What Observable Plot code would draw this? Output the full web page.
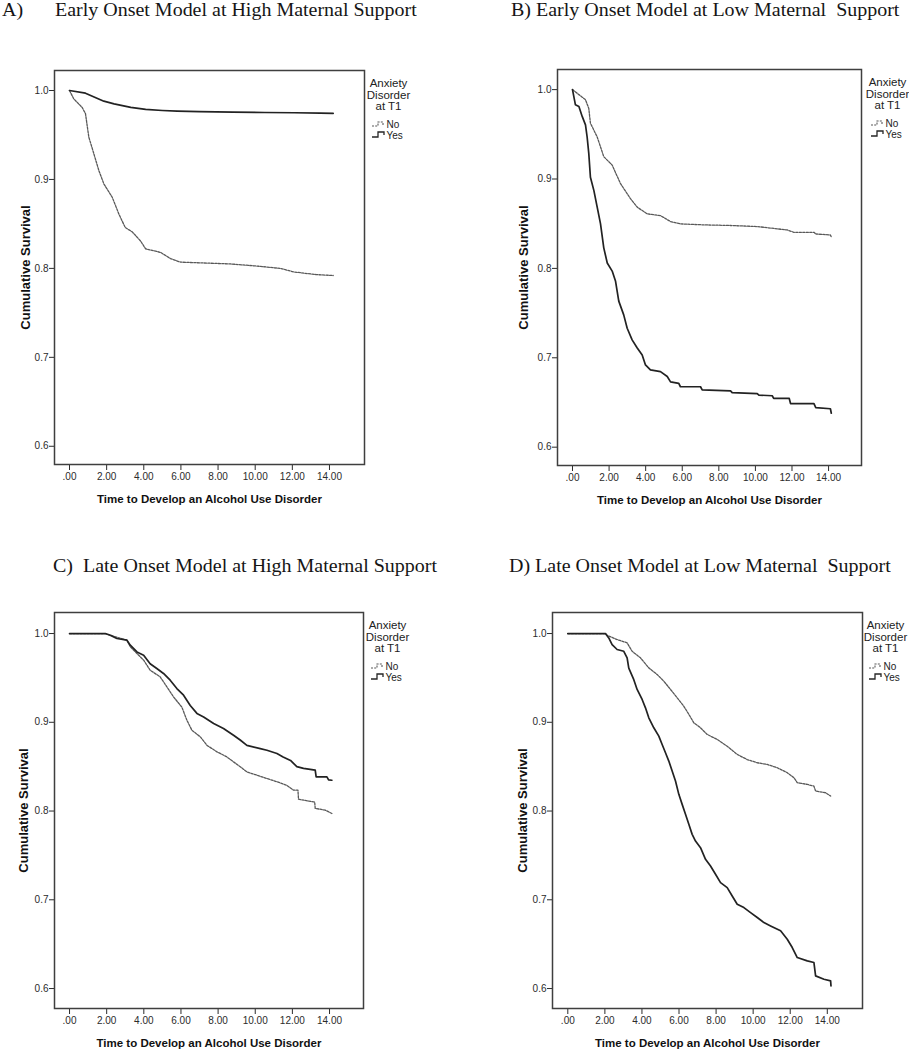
<!DOCTYPE html>
<html><head><meta charset="utf-8">
<script src="https://cdn.jsdelivr.net/npm/d3@7"></script>
<script src="https://cdn.jsdelivr.net/npm/@observablehq/plot@0.6"></script>
<style>
body{margin:0;background:#fff;}
#wrap{position:relative;width:909px;height:1050px;overflow:hidden;background:#fff;}
.ttl{position:absolute;font-family:"Liberation Serif","Times New Roman",serif;font-size:18px;line-height:18px;white-space:pre;color:#151515;transform:scaleX(1.11);transform-origin:0 0;}
.panel{position:absolute;}
</style></head><body><div id="wrap"></div>
<script>
// ---------- data ----------
const xTicks = [0, 2, 4, 6, 8, 10, 12, 14];
const yTicks = [0.6, 0.7, 0.8, 0.9, 1.0];
const xTitle = "Time to Develop an Alcohol Use Disorder";
const yTitle = "Cumulative Survival";
const legendTitle = ["Anxiety", "Disorder", "at T1"];
const legendLabels = ["No", "Yes"];
const panelTitles = [
  ["A)", "Early Onset Model at High Maternal Support"],
  ["", "B) Early Onset Model at Low Maternal  Support"],
  ["", "C)  Late Onset Model at High Maternal Support"],
  ["", "D) Late Onset Model at Low Maternal  Support"]
];

// Panel A – Early onset, high maternal support
const aYesT = [0, 0.86, 1.85, 2.4, 3.3, 4.1, 5.0, 5.8, 7.0, 8.8, 10.5, 12.1, 13.5, 14.2];
const aYesS = [1.0, 0.997, 0.988, 0.985, 0.981, 0.9787, 0.9775, 0.9768, 0.9762, 0.9757, 0.9753, 0.975, 0.9746, 0.9742];
const aNoT = [0, 0.23, 0.68, 0.86, 1.04, 1.31, 1.58, 1.85, 2.3, 2.66, 3.0, 3.38, 3.82, 4.1, 4.9, 5.44, 5.98, 8.67, 10.1, 11.36, 12.08, 13.3, 14.2];
const aNoS = [1.0, 0.9906, 0.981, 0.974, 0.9476, 0.929, 0.910, 0.895, 0.880, 0.861, 0.846, 0.841, 0.831, 0.822, 0.818, 0.811, 0.807, 0.805, 0.8026, 0.80, 0.796, 0.793, 0.792];

// Panel B – Early onset, low maternal support
const bYesT = [0, 0.16, 0.35, 0.53, 0.71, 0.8, 0.89, 0.98, 1.17, 1.35, 1.53, 1.71, 1.9, 2.17, 2.35, 2.53, 2.8, 2.99, 3.26, 3.54, 3.81, 3.99, 4.26, 4.81, 5.18, 5.36, 5.81, 5.9, 7.0, 7.09, 8.64, 8.73, 10.1, 10.19, 10.92, 11.0, 11.85, 11.92, 13.2, 13.3, 14.1, 14.15];
const bYesS = [1.0, 0.983, 0.981, 0.97, 0.9606, 0.947, 0.9287, 0.902, 0.887, 0.8685, 0.85, 0.823, 0.806, 0.797, 0.786, 0.7634, 0.748, 0.733, 0.72, 0.711, 0.703, 0.692, 0.6864, 0.6845, 0.679, 0.673, 0.6713, 0.6676, 0.6676, 0.664, 0.663, 0.661, 0.66, 0.6583, 0.6575, 0.6545, 0.6545, 0.6488, 0.6488, 0.6443, 0.643, 0.638];
const bNoT = [0, 0.35, 0.71, 0.89, 0.98, 1.35, 1.71, 2.17, 2.62, 3.17, 3.54, 4.08, 4.81, 5.36, 5.9, 7.18, 8.64, 10.1, 11.74, 12.1, 13.2, 13.3, 14.1, 14.15];
const bNoS = [1.0, 0.9944, 0.9887, 0.979, 0.9625, 0.947, 0.925, 0.9155, 0.895, 0.878, 0.8685, 0.861, 0.859, 0.8524, 0.8498, 0.8487, 0.848, 0.8468, 0.843, 0.8404, 0.8404, 0.8385, 0.8374, 0.835];

// Panel C – Late onset, high maternal support
const cYesT = [0, 1.92, 2.19, 2.55, 3.09, 3.27, 3.63, 3.99, 4.34, 4.7, 5.06, 5.42, 5.78, 6.14, 6.5, 6.86, 7.22, 7.76, 8.29, 8.83, 9.19, 9.55, 10.27, 10.63, 11.17, 11.5, 11.9, 12.24, 12.6, 13.23, 13.28, 13.86, 13.95, 14.13];
const cYesS = [1, 1, 0.998, 0.9944, 0.9925, 0.9869, 0.9793, 0.9756, 0.966, 0.9606, 0.955, 0.9474, 0.938, 0.9305, 0.919, 0.91, 0.906, 0.8986, 0.893, 0.8854, 0.88, 0.874, 0.8704, 0.8685, 0.8648, 0.861, 0.857, 0.85, 0.848, 0.846, 0.8385, 0.8385, 0.835, 0.8347];
const cNoT = [0, 1.92, 2.37, 3.09, 3.27, 3.63, 3.99, 4.34, 4.88, 5.24, 5.6, 6.05, 6.32, 6.59, 7.04, 7.4, 7.94, 8.47, 8.83, 9.19, 9.55, 10.09, 10.63, 11.17, 11.7, 12.06, 12.3, 12.33, 13.14, 13.2, 13.23, 13.77, 14.13];
const cNoS = [1, 1, 0.997, 0.9925, 0.985, 0.9775, 0.97, 0.9587, 0.9512, 0.94, 0.9286, 0.917, 0.9023, 0.891, 0.8836, 0.874, 0.8667, 0.861, 0.8554, 0.85, 0.844, 0.8404, 0.8366, 0.833, 0.829, 0.8235, 0.8235, 0.8133, 0.8103, 0.8103, 0.803, 0.801, 0.7972];

// Panel D – Late onset, low maternal support
const dYesT = [0, 2.03, 2.21, 2.39, 2.66, 3.02, 3.2, 3.29, 3.56, 3.74, 4.01, 4.19, 4.37, 4.64, 4.91, 5.09, 5.27, 5.45, 5.63, 5.81, 5.99, 6.17, 6.35, 6.53, 6.71, 6.89, 7.16, 7.43, 7.7, 7.97, 8.24, 8.6, 8.87, 9.14, 9.5, 9.86, 10.22, 10.58, 10.94, 11.48, 11.84, 12.11, 12.38, 12.92, 13.28, 13.37, 13.82, 14.18, 14.2];
const dYesS = [1, 1, 0.995, 0.9876, 0.982, 0.98, 0.9726, 0.961, 0.948, 0.937, 0.9257, 0.9163, 0.905, 0.8938, 0.8844, 0.875, 0.8657, 0.8563, 0.845, 0.8338, 0.8188, 0.8075, 0.7963, 0.785, 0.7737, 0.7662, 0.7587, 0.7456, 0.738, 0.7287, 0.7193, 0.7137, 0.7043, 0.695, 0.6912, 0.6856, 0.68, 0.6743, 0.6705, 0.665, 0.6555, 0.6462, 0.6349, 0.6311, 0.6293, 0.6143, 0.6105, 0.6086, 0.603];
const dNoT = [0, 2.03, 2.12, 2.66, 3.2, 3.47, 3.92, 4.37, 4.82, 5.18, 5.54, 5.9, 6.26, 6.53, 6.8, 7.16, 7.52, 8.06, 8.6, 9.14, 9.68, 10.22, 10.76, 11.3, 11.84, 12.2, 12.38, 12.92, 13.28, 13.37, 13.91, 14.18];
const dNoS = [1, 1, 0.998, 0.9932, 0.9895, 0.98, 0.9726, 0.9613, 0.9538, 0.9463, 0.937, 0.9276, 0.918, 0.909, 0.8994, 0.8938, 0.8863, 0.8807, 0.873, 0.8638, 0.858, 0.8544, 0.8525, 0.8488, 0.8432, 0.8375, 0.832, 0.83, 0.828, 0.8225, 0.8206, 0.8169];

// ---------- rendering ----------
const zip = (T, S) => T.map((t, i) => ({t, s: S[i]}));
const SANS = '"Liberation Sans Narrow","Arial Narrow","Liberation Sans",Arial,sans-serif';
const SANSB = '"Liberation Sans",Arial,sans-serif';
const fmtX = d => d === 0 ? ".00" : d.toFixed(2);
const wrap = document.getElementById("wrap");

function addTitle(txt, left, top) {
  const el = document.createElement("div");
  el.className = "ttl";
  el.textContent = txt;
  el.style.left = left + "px";
  el.style.top = top + "px";
  wrap.appendChild(el);
}

function panel(cfg) {
  const {left, top, width, height, mL, mR, mT, mB, xDom, yDom, yes, no, yDx, legDx} = cfg;
  const legDy = [13, 24.5, 36];
  const marks = [
    Plot.line(no, {x: "t", y: "s", stroke: "#595959", strokeWidth: 1.3, strokeDasharray: "2.2,1.3"}),
    Plot.line(yes, {x: "t", y: "s", stroke: "#222", strokeWidth: 1.7}),
    Plot.frame({stroke: "#3f3f3f", strokeWidth: 1.5}),
    Plot.text([yTitle], {text: d => d, frameAnchor: "left", rotate: -90, dx: yDx, textAnchor: "middle", lineAnchor: "middle", fontWeight: "bold", fontSize: 13, fontFamily: SANSB, fill: "#111"}),
    Plot.text([xTitle], {text: d => d, frameAnchor: "bottom", dy: 35, textAnchor: "middle", lineAnchor: "middle", fontWeight: "bold", fontSize: 11.5, fontFamily: SANSB, fill: "#111"})
  ];
  legendTitle.forEach((s, i) => marks.push(Plot.text([s], {text: d => d, frameAnchor: "top-right", dx: legDx, dy: legDy[i], textAnchor: "middle", lineAnchor: "middle", fontSize: 11.5, fill: "#222"})));
  marks.push(Plot.text([legendLabels[0]], {text: d => d, frameAnchor: "top-right", dx: legDx - 2, dy: 54, textAnchor: "start", lineAnchor: "middle", fontSize: 10, fill: "#222"}));
  marks.push(Plot.text([legendLabels[1]], {text: d => d, frameAnchor: "top-right", dx: legDx - 2, dy: 65.5, textAnchor: "start", lineAnchor: "middle", fontSize: 10, fill: "#222"}));

  const svg = Plot.plot({
    width, height, marginLeft: mL, marginRight: mR, marginTop: mT, marginBottom: mB,
    style: {fontFamily: SANS, fontSize: "10px", color: "#2b2b2b", background: "transparent", overflow: "visible"},
    x: {domain: xDom, ticks: xTicks, tickFormat: fmtX, tickSize: 6, tickPadding: 2, label: null},
    y: {domain: yDom, ticks: yTicks, tickFormat: d => d.toFixed(1), tickSize: 5, tickPadding: 1, label: null},
    marks
  });
  // legend line glyphs
  const fr = width - mR, g = d3.select(svg).append("g").attr("fill", "none");
  g.append("path").attr("d", `M${fr + legDx - 16},${mT + 56}H${fr + legDx - 10}V${mT + 52}H${fr + legDx - 5}V${mT + 55}`)
    .attr("stroke", "#595959").attr("stroke-width", 1.1).attr("stroke-dasharray", "2,1.2");
  g.append("path").attr("d", `M${fr + legDx - 16},${mT + 67}H${fr + legDx - 10}V${mT + 62}H${fr + legDx - 4}V${mT + 65}`)
    .attr("stroke", "#262626").attr("stroke-width", 1.3);
  const holder = document.createElement("div");
  holder.className = "panel";
  holder.style.left = left + "px";
  holder.style.top = top + "px";
  holder.appendChild(svg);
  wrap.appendChild(holder);
}

const yTop = [0.5795, 1.0225];
const yBot = [0.5775, 1.0237];

panel({left: 0, top: 40, width: 455, height: 480, mL: 54, mR: 91, mT: 30, mB: 56, xDom: [-0.808, 15.886], yDom: yTop, yes: zip(aYesT, aYesS), no: zip(aNoT, aNoS), yDx: -29, legDx: 24});
panel({left: 455, top: 40, width: 454, height: 480, mL: 102, mR: 48, mT: 29, mB: 55, xDom: [-0.82, 15.80], yDom: yTop, yes: zip(bYesT, bYesS), no: zip(bNoT, bNoS), yDx: -34, legDx: 26});
panel({left: 0, top: 582, width: 455, height: 468, mL: 54, mR: 92, mT: 30, mB: 42, xDom: [-0.81, 15.83], yDom: yBot, yes: zip(cYesT, cYesS), no: zip(cNoT, cNoS), yDx: -31, legDx: 24});
panel({left: 455, top: 582, width: 454, height: 468, mL: 97, mR: 47, mT: 30, mB: 42, xDom: [-0.826, 15.90], yDom: yBot, yes: zip(dYesT, dYesS), no: zip(dNoT, dNoS), yDx: -30, legDx: 23});

addTitle(panelTitles[0][0], 2, 1);
addTitle(panelTitles[0][1], 55, 1);
addTitle(panelTitles[1][1], 511, 1);
addTitle(panelTitles[2][1], 53, 557);
addTitle(panelTitles[3][1], 509, 557);
</script></body></html>
